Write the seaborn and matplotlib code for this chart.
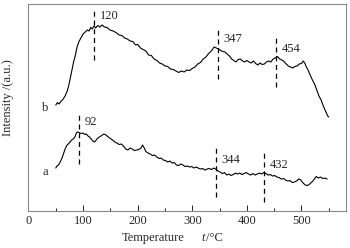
import numpy as np
import pandas as pd
import matplotlib
matplotlib.use("Agg")
import matplotlib.pyplot as plt
import seaborn as sns

# Curve b (upper)
temp_b = [50, 53, 56, 60, 63, 67, 71, 74, 77, 80, 83, 86, 89, 92, 96, 100, 104, 108, 111, 114,
          117, 120, 123, 127, 131, 135, 139, 144, 149, 155, 160, 166, 171, 176, 181, 186, 191, 196,
          200, 205, 210, 215, 220, 225, 230, 235, 240, 245, 250, 255, 260, 265, 270, 275, 280, 285,
          290, 295, 300, 305, 310, 315, 320, 325, 330, 335, 340, 344, 348, 352, 356, 360, 364, 368,
          372, 376, 380, 384, 388, 392, 396, 400, 404, 408, 412, 416, 420, 424, 428, 432, 436, 440,
          444, 448, 452, 456, 460, 464, 468, 472, 476, 480, 484, 488, 492, 496, 500, 503, 506, 509,
          512, 516, 520, 524, 528, 532, 536, 540, 544, 548, 550]
int_b = [106, 108.5, 107, 110, 111.5, 115, 120, 126, 134, 142, 150, 156, 164, 169, 173, 177, 179,
         181, 180, 183.5, 182, 185, 183, 185.5, 184, 186, 184, 183.5, 181, 180, 178.5, 176, 175.5,
         173, 172, 170, 169.5, 166, 166.5, 163, 161.5, 160, 156, 155.5, 152, 150.5, 148, 147, 145,
         144.5, 142, 141.5, 140, 138.5, 140, 139, 141, 140.5, 142.5, 144, 147, 148.5, 152, 154,
         157.5, 160, 164, 163, 162, 160.5, 159.5, 159, 157, 155, 152, 150.5, 149, 151.5, 152, 150,
         149, 150.5, 149, 148, 150, 147.5, 146, 148, 146.5, 147, 149, 150, 149, 152, 153, 154.5,
         152, 151, 149.5, 147, 145, 144, 143, 144.5, 145, 147, 147.5, 150, 148, 144, 141, 136, 131,
         127, 121, 115, 111, 105, 100, 95, 94]

# Curve a (lower)
temp_a = [50, 52, 55, 58, 61, 64, 67, 70, 73, 76, 79, 82, 85, 88, 91, 94, 97, 100, 103, 106, 109,
          112, 115, 118, 121, 124, 127, 130, 134, 138, 142, 146, 150, 154, 158, 162, 166, 170, 174,
          178, 182, 186, 190, 194, 198, 202, 206, 209, 212, 215, 219, 223, 227, 231, 235, 239, 243,
          247, 251, 255, 259, 263, 267, 271, 275, 279, 283, 287, 291, 295, 299, 303, 307, 311, 315,
          319, 323, 327, 331, 335, 339, 343, 347, 351, 355, 359, 363, 367, 371, 375, 379, 383, 387,
          391, 395, 399, 403, 407, 411, 415, 419, 423, 427, 431, 435, 439, 443, 447, 451, 455, 459,
          463, 467, 471, 475, 479, 483, 487, 491, 495, 499, 503, 507, 511, 515, 519, 523, 527, 531,
          535, 539, 543, 547]
int_a = [43, 45, 46, 49, 52.5, 57, 62, 65.5, 67, 69, 71, 72, 74, 78.5, 79, 78, 77.5, 78, 76.5, 77,
         75, 74, 72, 70, 69, 71, 73, 74, 75.5, 77, 76, 74, 72.5, 71, 69, 68, 66.5, 67, 65, 62, 61,
         63, 62, 60.5, 61, 61.5, 63, 66, 63, 59.5, 58, 57, 55.5, 56, 54, 52.5, 53, 51, 50.5, 49,
         50, 48, 48.5, 46, 45.5, 47, 46, 44.5, 45, 44, 44.5, 43, 44, 43, 42, 42.5, 41, 42, 42.5,
         41.5, 43, 42, 40, 39, 37.5, 38.5, 36, 37, 35.5, 36.5, 38, 37, 38, 36.5, 37.5, 38.5, 37,
         36, 37.5, 36, 37, 38, 37, 38.5, 37.5, 36, 36.5, 35, 35.5, 34, 33.5, 32, 32.5, 31, 30,
         30.5, 28.5, 29, 30, 32, 31, 28, 26, 25.5, 27, 29, 31.5, 34.5, 33, 34, 32.5, 33, 32]

# Peak markers
peaks_b = [120, 347, 454]
peaks_b_lo = [151, 132, 124]
peaks_b_hi = [203, 183, 175]
peaks_b_lab_y = [195, 172, 162]
peaks_a = [92, 344, 432]
peaks_a_lo = [47, 14, 9]
peaks_a_hi = [96, 64, 60]
peaks_a_lab_y = [89, 51, 46]

x_ticks = [0, 100, 200, 300, 400, 500]

sns.set_style("ticks")
plt.rcParams['font.family'] = ['Liberation Serif', 'DejaVu Serif']

W, H = 350, 248
fig = plt.figure(figsize=(3.5, 2.48), dpi=100)
ax = fig.add_axes([0.0814, 0.149, 0.9063, 0.835])

df_b = pd.DataFrame({"T": temp_b, "I": int_b})
df_a = pd.DataFrame({"T": temp_a, "I": int_a})
sns.lineplot(data=df_b, x="T", y="I", ax=ax, color="black", lw=0.8, sort=False)
sns.lineplot(data=df_a, x="T", y="I", ax=ax, color="black", lw=0.8, sort=False)

for p, lo, hi, ly in zip(peaks_b, peaks_b_lo, peaks_b_hi, peaks_b_lab_y):
    ax.plot([p, p], [lo, hi], color="black", lw=0.9, ls=(0, (4, 3)))
    ax.text(p + 10, ly, str(p), fontsize=9, va="center", ha="left")
for p, lo, hi, ly in zip(peaks_a, peaks_a_lo, peaks_a_hi, peaks_a_lab_y):
    ax.plot([p, p], [lo, hi], color="black", lw=0.9, ls=(0, (4, 3)))
    ax.text(p + 10, ly, str(p), fontsize=9, va="center", ha="left")

ax.text(31, 103, "b", fontsize=9, va="center", ha="center")
ax.text(31, 39, "a", fontsize=9, va="center", ha="center")

ax.set_xlim(0, 581)
ax.set_ylim(0, 207)
ax.set_xticks(x_ticks)
ax.set_xticklabels([str(t) for t in x_ticks], fontsize=9)
ax.set_xticks([50, 150, 250, 350, 450, 550], minor=True)
ax.set_yticks([])
ax.set_xlabel("")
ax.set_ylabel("")
ax.tick_params(axis="x", which="major", direction="in", length=4, width=0.7, pad=3)
ax.tick_params(axis="x", which="minor", direction="in", length=2, width=0.7)
for s in ax.spines.values():
    s.set_color("#888888")
    s.set_linewidth(0.8)
    s.set_visible(True)

fig.text(185 / W, 1 - 238 / H, "Temperature", fontsize=9, ha="right", va="center")
fig.text(201 / W, 1 - 238 / H, "t", fontsize=9, ha="left", va="center", style="italic")
fig.text(206 / W, 1 - 238 / H, "/\u00b0C", fontsize=9, ha="left", va="center")
fig.text(8 / W, 1 - 98 / H, "Intensity /(a.u.)", fontsize=9, rotation=90,
         ha="center", va="center")

fig.savefig("out.png", dpi=100)
